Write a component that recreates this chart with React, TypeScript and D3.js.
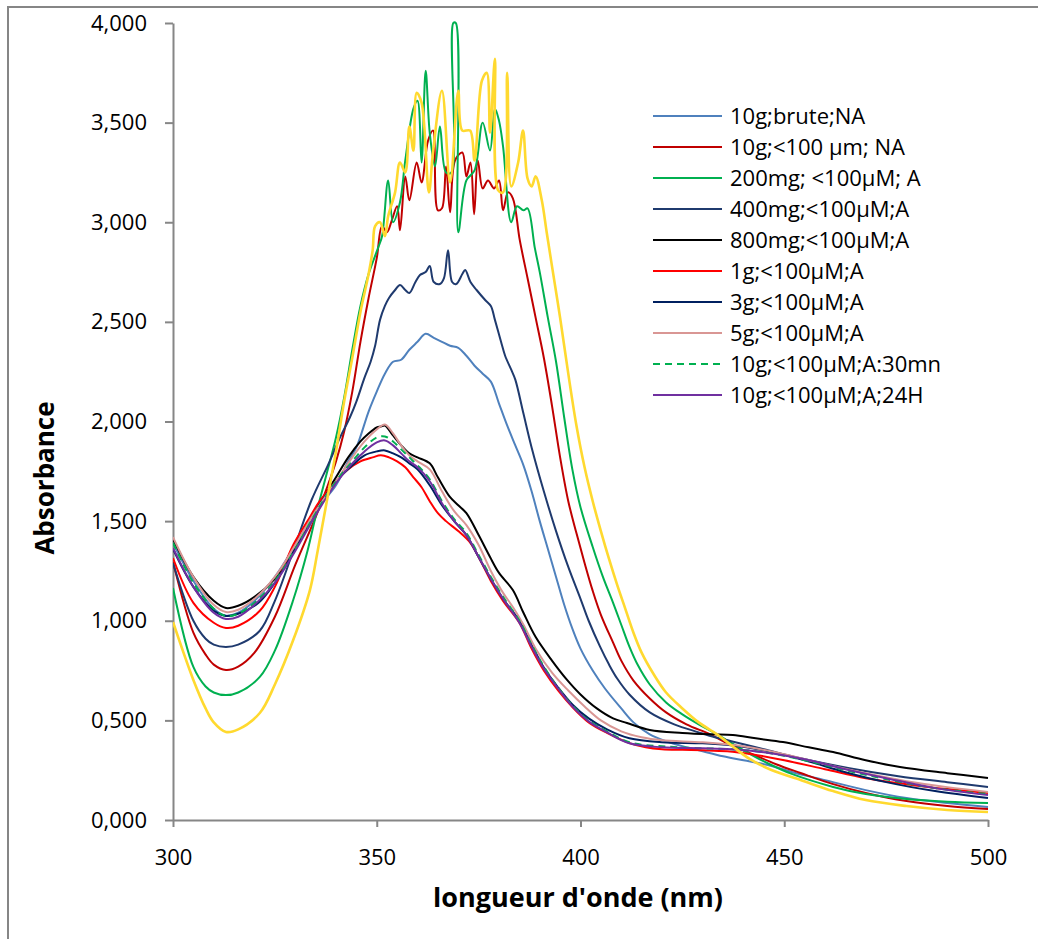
import React, { useEffect, useRef } from "react";
import * as d3 from "d3";

type Pt = [number, number];

// wavelength (nm), absorbance
const brute10gNA: Pt[] = [
  [300, 1.39], [305, 1.2], [310, 1.06], [313, 1.025], [316, 1.04], [320, 1.1], [325, 1.22], [330, 1.38],
  [335, 1.55], [340, 1.68], [343, 1.8], [345, 1.87], [348, 2.05], [350, 2.15], [352, 2.24], [354, 2.3],
  [356, 2.31], [358, 2.36], [360, 2.4], [362, 2.44], [364, 2.42], [366, 2.4], [368, 2.38], [370, 2.37],
  [372, 2.33], [374, 2.28], [376, 2.24], [378, 2.2], [380, 2.09], [382, 1.98], [384, 1.88], [386, 1.78],
  [388, 1.65], [390, 1.5], [392, 1.36], [394, 1.22], [396, 1.08], [398, 0.96], [400, 0.86], [403, 0.75],
  [406, 0.66], [410, 0.56], [413, 0.49], [417, 0.43], [421, 0.395], [425, 0.37], [429, 0.35], [435, 0.32],
  [440, 0.3], [446, 0.276], [452, 0.24], [460, 0.2], [470, 0.15], [480, 0.11], [490, 0.085], [500, 0.065],
];

const fine10gNA: Pt[] = [
  [300, 1.295], [305, 0.94], [308, 0.83], [310, 0.78], [313, 0.753], [316, 0.77], [320, 0.84], [325, 1.02],
  [330, 1.28], [335, 1.52], [338, 1.68], [340, 1.8], [342, 1.95], [344, 2.15], [346, 2.4], [348, 2.62],
  [350, 2.82], [351.3, 2.98], [352.5, 2.95], [353.7, 3.01], [355, 3.08], [355.7, 2.96], [357, 3.23],
  [358, 3.11], [359.8, 3.3], [361, 3.2], [362.6, 3.41], [363.8, 3.46], [365, 3.06], [366, 3.07], [367, 3.28],
  [368, 3.05], [369.2, 3.31], [371, 3.35], [372, 3.23], [373, 3.3], [373.9, 3.04], [374.8, 3.31], [376, 3.17],
  [377.3, 3.21], [378.8, 3.17], [380, 3.21], [381, 3.06], [382.2, 3.15], [383.4, 3.12], [385.1, 2.91],
  [387, 2.72], [389, 2.52], [391, 2.32], [393, 2.08], [395, 1.82], [397, 1.6], [399, 1.44], [401, 1.29],
  [403, 1.15], [405, 1.03], [408, 0.89], [410, 0.8], [413, 0.7], [417, 0.61], [421, 0.54], [426, 0.48],
  [431.8, 0.43], [436, 0.385], [441.6, 0.336], [448, 0.28], [454, 0.236], [462, 0.18], [470, 0.136],
  [480, 0.095], [490, 0.07], [500, 0.055],
];

const mg200: Pt[] = [
  [300, 1.164], [305, 0.768], [308, 0.67], [310, 0.64], [313, 0.627], [316, 0.64], [321.3, 0.718], [325, 0.85],
  [329.5, 1.104], [333, 1.35], [335.3, 1.55], [338, 1.76], [340, 1.92], [342, 2.12], [344, 2.36], [346, 2.58],
  [348, 2.74], [350.3, 2.87], [351.3, 2.93], [352.8, 3.21], [354, 3.0], [355.7, 3.1], [357, 3.31], [359, 3.57],
  [360, 3.61], [361, 3.3], [362, 3.76], [363, 3.45], [364.3, 3.28], [365.5, 3.48], [367, 3.25], [368.3, 3.25],
  [368.8, 4.0], [369.4, 4.0], [370, 2.95], [372, 3.21], [374, 3.26], [376, 3.5], [377.8, 3.36], [379, 3.57],
  [380, 3.51], [381, 3.38], [383, 3.0], [384.4, 3.08], [386, 3.06], [387, 3.07], [388.8, 2.87], [390, 2.75],
  [392, 2.52], [394, 2.3], [396, 2.02], [398, 1.76], [400, 1.57], [403, 1.37], [405.5, 1.22], [408, 1.09],
  [410, 0.98], [412, 0.87], [414, 0.78], [417, 0.68], [421, 0.59], [425, 0.53], [429, 0.48], [433.5, 0.43],
  [440, 0.35], [445.8, 0.286], [452, 0.23], [462, 0.166], [470, 0.13], [480, 0.105], [490, 0.092], [500, 0.085],
];

const mg400: Pt[] = [
  [300, 1.29], [305, 1.0], [308, 0.91], [310, 0.88], [313, 0.868], [316, 0.88], [321.3, 0.95], [325, 1.1],
  [329.5, 1.35], [334, 1.606], [338, 1.78], [341, 1.92], [343.4, 2.02], [345, 2.1], [347, 2.22], [348.5, 2.3],
  [349.6, 2.38], [350.8, 2.51], [352, 2.58], [353, 2.62], [354.5, 2.66], [355.7, 2.685], [357, 2.66],
  [358, 2.645], [359.5, 2.7], [360.6, 2.735], [362, 2.75], [363, 2.78], [364, 2.7], [365.5, 2.69],
  [366.5, 2.72], [367.5, 2.86], [368.5, 2.7], [369.5, 2.69], [371, 2.74], [371.7, 2.76], [373, 2.7],
  [374.5, 2.66], [376.6, 2.61], [378, 2.58], [379, 2.51], [380.5, 2.4], [381.5, 2.33], [383, 2.26], [384, 2.21],
  [386, 2.04], [388, 1.87], [391, 1.65], [394, 1.45], [397, 1.27], [400, 1.11], [402, 1.0], [404.8, 0.87],
  [407, 0.78], [409, 0.71], [412, 0.63], [417, 0.54], [423, 0.48], [429, 0.44], [433, 0.415], [437, 0.395],
  [445, 0.355], [454, 0.31], [466, 0.26], [478, 0.22], [490, 0.19], [500, 0.166],
];

const mg800: Pt[] = [
  [300, 1.41], [305, 1.22], [310, 1.1], [313, 1.064], [316, 1.075], [320, 1.12], [325, 1.21], [329.5, 1.34],
  [333.6, 1.5], [337, 1.62], [340, 1.72], [343, 1.82], [346, 1.9], [348, 1.94], [350, 1.97], [351, 1.975],
  [352, 1.98], [354, 1.93], [356, 1.88], [358, 1.84], [360, 1.82], [363, 1.79], [365, 1.72], [368, 1.62],
  [370, 1.58], [372, 1.54], [375, 1.43], [377.8, 1.32], [380, 1.24], [383.4, 1.154], [386, 1.04], [389, 0.918],
  [393, 0.8], [396.7, 0.703], [400, 0.63], [404, 0.56], [408, 0.51], [411.4, 0.487], [417, 0.452], [425, 0.437],
  [432, 0.43], [437.4, 0.427], [443, 0.41], [449.7, 0.391], [456, 0.365], [462, 0.341], [470, 0.3],
  [478.4, 0.266], [490, 0.235], [500, 0.211],
];

const g1: Pt[] = [
  [300, 1.315], [305, 1.09], [310, 0.99], [313, 0.964], [316, 0.975], [321.3, 1.05], [325, 1.17], [329.5, 1.38],
  [333, 1.5], [336, 1.6], [340, 1.7], [343, 1.76], [346, 1.8], [349, 1.82], [351, 1.83], [353, 1.82], [355, 1.8],
  [357, 1.77], [359, 1.72], [361, 1.67], [363, 1.6], [365, 1.54], [367, 1.5], [370, 1.45], [373, 1.39],
  [375.5, 1.3], [378, 1.2], [381, 1.1], [385, 0.99], [388, 0.86], [391, 0.75], [394.5, 0.65], [398, 0.567],
  [402, 0.49], [406.5, 0.437], [412, 0.386], [416, 0.365], [420, 0.355], [425, 0.352], [430, 0.35],
  [436, 0.345], [442, 0.33], [450, 0.3], [460, 0.255], [470, 0.21], [480, 0.18], [490, 0.155], [500, 0.136],
];

const g3: Pt[] = [
  [300, 1.36], [305, 1.17], [310, 1.05], [313, 1.024], [316, 1.035], [321, 1.09], [325, 1.19], [330, 1.36],
  [335, 1.55], [340, 1.7], [344, 1.78], [347, 1.83], [350, 1.85], [352, 1.855], [354, 1.84], [356, 1.82],
  [358, 1.79], [360, 1.76], [363, 1.68], [366, 1.58], [369, 1.5], [372, 1.43], [375, 1.32], [378, 1.21],
  [381, 1.11], [385, 1.0], [388, 0.88], [391, 0.765], [394.5, 0.665], [398, 0.58], [402, 0.51], [406.5, 0.455],
  [412, 0.41], [420, 0.39], [430, 0.385], [437, 0.375], [445, 0.35], [455, 0.3], [465, 0.24], [475, 0.19],
  [487, 0.145], [500, 0.11],
];

const g5: Pt[] = [
  [300, 1.42], [305, 1.22], [310, 1.08], [313, 1.044], [316, 1.055], [320, 1.11], [325, 1.22], [330, 1.38],
  [335, 1.55], [340, 1.7], [344, 1.82], [347, 1.9], [350, 1.96], [352, 1.985], [354, 1.94], [356, 1.88],
  [358, 1.83], [360, 1.8], [363, 1.76], [366, 1.65], [369, 1.55], [372, 1.48], [375, 1.38], [378, 1.25],
  [381, 1.14], [383.4, 1.069], [386, 0.98], [389, 0.86], [393, 0.74], [397, 0.65], [401, 0.57], [405, 0.5],
  [410, 0.445], [415, 0.415], [420, 0.4], [430, 0.39], [440, 0.37], [450, 0.33], [460, 0.28], [470, 0.235],
  [480, 0.195], [490, 0.165], [500, 0.141],
];

const g10min30: Pt[] = [
  [300, 1.39], [305, 1.19], [310, 1.06], [313, 1.024], [316, 1.035], [320, 1.09], [325, 1.2], [330, 1.36],
  [335, 1.54], [340, 1.7], [344, 1.8], [347, 1.87], [350, 1.92], [352, 1.925], [354, 1.9], [356, 1.86],
  [358, 1.82], [360, 1.78], [363, 1.71], [366, 1.6], [369, 1.51], [372, 1.44], [375, 1.33], [378, 1.22],
  [381, 1.12], [385, 1.0], [388, 0.88], [391, 0.77], [394.5, 0.665], [398, 0.575], [402, 0.5], [406.5, 0.445],
  [412, 0.39], [420, 0.37], [430, 0.36], [437, 0.355], [445, 0.34], [455, 0.3], [465, 0.25], [475, 0.205],
  [487, 0.16], [500, 0.13],
];

const g10h24: Pt[] = [
  [300, 1.365], [305, 1.17], [310, 1.04], [313, 1.009], [316, 1.02], [320, 1.08], [325, 1.19], [330, 1.35],
  [335, 1.53], [340, 1.69], [344, 1.79], [347, 1.85], [350, 1.895], [352, 1.905], [354, 1.88], [356, 1.84],
  [358, 1.8], [360, 1.77], [363, 1.7], [366, 1.59], [369, 1.5], [372, 1.43], [375, 1.32], [378, 1.21],
  [381, 1.11], [385, 0.99], [388, 0.87], [391, 0.76], [394.5, 0.66], [398, 0.57], [402, 0.495], [406.5, 0.44],
  [412, 0.385], [420, 0.365], [430, 0.36], [437, 0.355], [445, 0.34], [455, 0.305], [465, 0.255], [475, 0.21],
  [487, 0.16], [500, 0.125],
];

// extra curve, not in legend
const yellowCurve: Pt[] = [
  [300, 0.994], [305, 0.703], [308, 0.56], [310, 0.49], [313, 0.442], [316, 0.455], [321.3, 0.537], [325, 0.68],
  [329.5, 0.903], [333.6, 1.154], [335.5, 1.35], [337.8, 1.606], [340, 1.85], [342, 2.1], [344, 2.32],
  [346, 2.55], [348, 2.74], [349, 2.86], [349.6, 2.98], [350.8, 3.0], [352, 2.93], [352.8, 3.03], [354.5, 3.15],
  [355.7, 3.3], [357, 3.25], [358, 3.48], [359, 3.36], [359.8, 3.65], [361, 3.6], [362.8, 3.15], [363.8, 3.35],
  [366, 3.66], [368, 3.2], [370, 3.66], [371, 3.46], [372.9, 3.46], [374, 3.31], [375.8, 3.71], [377, 3.75],
  [377.8, 3.45], [379, 3.82], [379.8, 3.16], [381, 3.15], [382, 3.75], [383, 3.18], [384.7, 3.3], [385.9, 3.46],
  [387, 3.22], [388, 3.18], [389, 3.23], [390.5, 3.11], [391.7, 2.95], [393, 2.78], [395, 2.52], [397, 2.24],
  [399, 1.98], [401, 1.77], [403, 1.6], [405, 1.45], [407, 1.31], [409, 1.18], [411, 1.06], [413, 0.94],
  [415, 0.84], [418, 0.73], [421, 0.64], [425, 0.56], [429, 0.49], [433.5, 0.43], [437, 0.375],
  [441.6, 0.305], [447, 0.25], [454, 0.201], [462, 0.145], [470, 0.1], [480, 0.07], [490, 0.05], [500, 0.04],
];

const seriesData = [brute10gNA, fine10gNA, mg200, mg400, mg800, g1, g3, g5, g10min30, g10h24, yellowCurve];
const seriesNames = [
  "10g;brute;NA", "10g;<100 µm; NA", "200mg; <100µM; A", "400mg;<100µM;A", "800mg;<100µM;A",
  "1g;<100µM;A", "3g;<100µM;A", "5g;<100µM;A", "10g;<100µM;A:30mn", "10g;<100µM;A;24H", "",
];
const seriesColors = [
  "#4F81BD", "#C00000", "#00B050", "#1F3A6E", "#000000", "#FF0000", "#002060", "#D99694", "#00B050",
  "#7030A0", "#FFD92F",
];
const dashedSeries = ["10g;<100µM;A:30mn"];

const xTicks = [300, 350, 400, 450, 500];
const yTicks = [0, 0.5, 1, 1.5, 2, 2.5, 3, 3.5, 4];

const FONT = "'Open Sans', sans-serif";

const App = () => {
  const svgRef = useRef<SVGSVGElement>(null);

  useEffect(() => {
    const svg = d3.select(svgRef.current);
    svg.selectAll("*").remove();

    const x = d3.scaleLinear().domain([300, 500]).range([173, 988]);
    const y = d3.scaleLinear().domain([0, 4]).range([820, 23]);
    const grey = "#868686";

    // outer chart frame (only left and top edges visible)
    svg.append("path").attr("d", "M8,939V7H1038").attr("fill", "none").attr("stroke", grey).attr("stroke-width", 2);

    svg.append("clipPath").attr("id", "plot-clip")
      .append("rect").attr("x", 173).attr("y", 18).attr("width", 820).attr("height", 806);

    const fmt = (d: number) => d3.format(".3f")(d).replace(".", ",");

    const yAxis = svg.append("g")
      .attr("transform", "translate(173,0)")
      .call(d3.axisLeft(y).tickValues(yTicks).tickFormat(fmt as any).tickSize(8).tickSizeOuter(0).tickPadding(18));
    yAxis.selectAll("text").attr("font-size", 22).attr("font-family", FONT).attr("fill", "#000");

    const xAxis = svg.append("g")
      .attr("transform", "translate(0,820)")
      .call(d3.axisBottom(x).tickValues(xTicks).tickFormat(d3.format("d") as any).tickSize(7).tickSizeOuter(0).tickPadding(22));
    xAxis.selectAll("text").attr("font-size", 22).attr("font-family", FONT).attr("fill", "#000");

    [xAxis, yAxis].forEach((g) => {
      g.selectAll("path, line").attr("stroke", grey).attr("stroke-width", 2);
    });

    const line = d3.line<Pt>()
      .x((d) => x(d[0]))
      .y((d) => y(d[1]))
      .curve(d3.curveCatmullRom.alpha(0.5));

    const plot = svg.append("g").attr("clip-path", "url(#plot-clip)");
    seriesData.forEach((data, i) => {
      plot.append("path")
        .attr("d", line(data))
        .attr("fill", "none")
        .attr("stroke", seriesColors[i])
        .attr("stroke-width", i === 10 ? 2.6 : 2)
        .attr("stroke-linejoin", "round")
        .attr("stroke-dasharray", dashedSeries.includes(seriesNames[i]) ? "7,5" : null);
    });

    // legend
    const legend = svg.append("g");
    seriesNames.forEach((name, i) => {
      if (!name) return;
      const ly = 116 + i * 31;
      legend.append("line")
        .attr("x1", 653).attr("x2", 722).attr("y1", ly).attr("y2", ly)
        .attr("stroke", seriesColors[i]).attr("stroke-width", 2)
        .attr("stroke-dasharray", dashedSeries.includes(name) ? "7,5" : null);
      legend.append("text")
        .attr("x", 730).attr("y", ly).attr("dy", "0.35em")
        .attr("font-size", 22).attr("font-family", FONT).attr("fill", "#000")
        .text(name);
    });

    // axis titles
    svg.append("text")
      .attr("x", 578).attr("y", 907).attr("text-anchor", "middle")
      .attr("font-size", 27).attr("font-weight", "bold").attr("font-family", FONT)
      .text("longueur d'onde (nm)");

    svg.append("text")
      .attr("transform", "translate(54,478) rotate(-90)")
      .attr("text-anchor", "middle")
      .attr("font-size", 26).attr("font-weight", "bold").attr("font-family", FONT)
      .text("Absorbance");
  }, []);

  return (
    <svg
      ref={svgRef}
      width={1038}
      height={939}
      style={{ position: "absolute", left: 0, top: 0, background: "#fff" }}
    />
  );
};

export default App;
